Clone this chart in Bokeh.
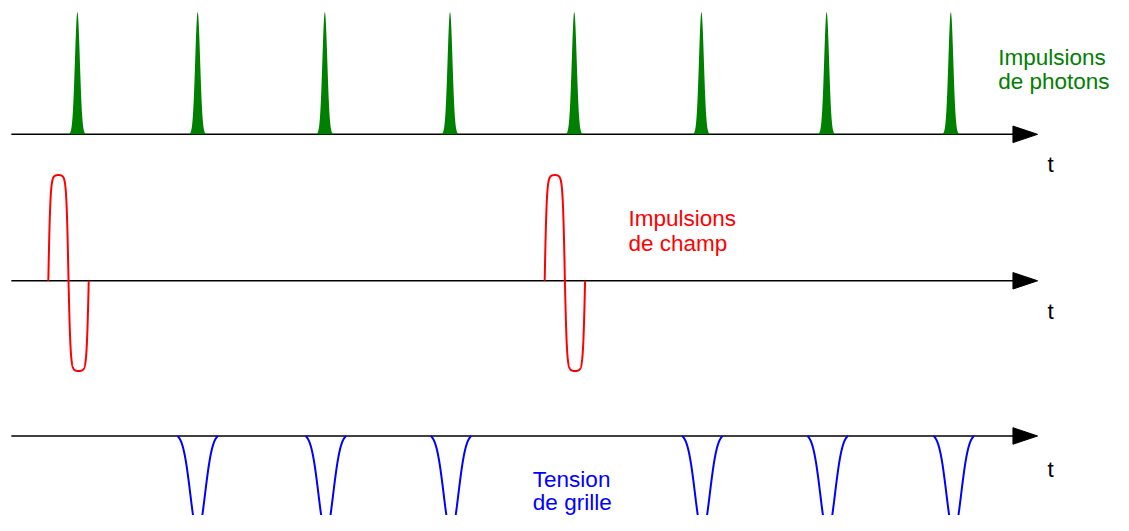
import numpy as np
from bokeh.plotting import figure
from bokeh.models import Range1d
from bokeh.core.properties import value
from bokeh.embed import file_html
from bokeh.resources import INLINE

# ---- data (pixel-like units) ----
photon_times = [78, 200, 329, 456, 582, 711, 838, 964]
photon_height = 126
field_starts = [48.5, 552]
field_period = 41
field_pos_amp = 109
field_neg_amp = 93
grid_times = [200, 330, 457, 712, 839, 967]
grid_depth = 100

labels_photon = ["Impulsions", "de photons"]
labels_field = ["Impulsions", "de champ"]
labels_grid = ["Tension", "de grille"]

# ---- layout ----
W, H = 1113, 515
base_ph, base_f, base_g = 138, 289, 449
x_start, x_end, x_tip = 11, 1027, 1052

p = figure(width=W, height=H, output_backend="svg", toolbar_location=None,
           x_range=Range1d(0, 1129), y_range=Range1d(531, 0),
           min_border=0, min_border_left=0, min_border_right=0,
           min_border_top=0, min_border_bottom=0)
p.axis.visible = False
p.grid.visible = False
p.outline_line_color = None
p.background_fill_color = "white"
p.border_fill_color = "white"

FONT = value("Liberation Sans")
FS = "22.5px"

# axes with arrows
for b in (base_ph, base_f, base_g):
    p.segment(x0=[x_start], y0=[b], x1=[x_end + 2], y1=[b], line_color="black", line_width=1.5)
    p.patch(x=[x_end, x_tip, x_end], y=[b - 8.5, b, b + 8.5], fill_color="black", line_color="black", line_width=1)
    p.text(x=[1062], y=[b + (35 if b == base_g else 31.5)], text=["t"], text_font=FONT,
           text_font_size=FS, text_color="black", text_baseline="alphabetic", text_align="left")

# photon pulses (filled)
sig = 2.5
for t in photon_times:
    dx = np.linspace(-9, 9, 121)
    yv = base_ph - photon_height * np.exp(-dx**2 / (2 * sig**2))
    p.varea(x=t + dx, y1=np.full_like(dx, base_ph), y2=yv, fill_color="#008000")

# field pulses
for s0 in field_starts:
    xs = np.linspace(0, field_period, 400)
    th = 2 * np.pi * xs / field_period
    f = np.tanh(3 * np.sin(th)) / np.tanh(3)
    amp = np.where(f > 0, field_pos_amp * f, field_neg_amp * f)
    p.line(x=s0 + xs, y=base_f - amp, line_color="#ff0000", line_width=2)

# grid voltage
sg = 7.5
hw = 20.5
g0 = np.exp(-hw**2 / (2 * sg**2))
for t in grid_times:
    dx = np.linspace(-hw, hw, 200)
    g = (np.exp(-dx**2 / (2 * sg**2)) - g0) / (1 - g0)
    p.line(x=t + dx, y=base_g + grid_depth * g, line_color="#0000ff", line_width=2)

# labels
def two_lines(x, y1, y2, lines, color):
    p.text(x=[x, x], y=[y1, y2], text=lines, text_font=FONT, text_font_size=FS,
           text_color=color, text_baseline="alphabetic", text_align="left")

two_lines(1012, 59, 84, labels_photon, "#008000")
two_lines(637, 225, 251, labels_field, "#ff0000")
two_lines(540, 494, 518, labels_grid, "#0000ff")

open("out.html", "w").write(file_html(p, INLINE))
